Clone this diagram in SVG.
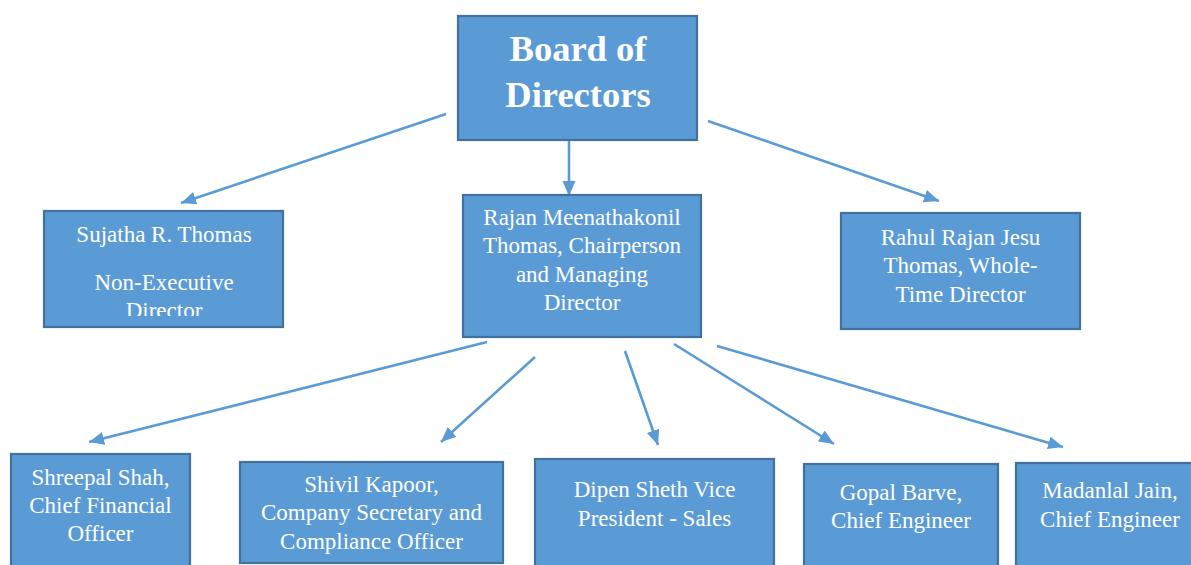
<svg xmlns="http://www.w3.org/2000/svg" width="1191" height="565" viewBox="0 0 1191 565">
<style>
.box{fill:#5b9bd5;stroke:#41719c;stroke-width:2.2}
.t{font-family:"Liberation Serif","Times New Roman",serif;font-size:23px;fill:#ffffff;text-anchor:middle}
.tb{font-family:"Liberation Serif","Times New Roman",serif;font-size:36.5px;font-weight:bold;fill:#ffffff;text-anchor:middle}
.c{stroke:#5b9bd5;stroke-width:2.6;fill:none;marker-end:url(#ah)}
</style>
<defs>
<marker id="ah" markerUnits="userSpaceOnUse" markerWidth="16" markerHeight="14" refX="15" refY="6.5" orient="auto">
<path d="M0,0 L15,6.5 L0,13 z" fill="#5b9bd5"/>
</marker>
<clipPath id="cs"><rect x="44" y="211" width="239" height="105"/></clipPath>
</defs>
<rect width="1191" height="565" fill="#ffffff"/>
<g id="connectors">
<line class="c" x1="569" y1="140" x2="569" y2="196"/>
<line class="c" x1="446" y1="114" x2="181" y2="203"/>
<line class="c" x1="708" y1="121" x2="939" y2="201"/>
<line class="c" x1="487" y1="342" x2="89" y2="442"/>
<line class="c" x1="535" y1="357" x2="441" y2="442"/>
<line class="c" x1="625" y1="351" x2="658" y2="445"/>
<line class="c" x1="674" y1="344" x2="834" y2="444"/>
<line class="c" x1="717" y1="346" x2="1063" y2="447"/>
</g>
<g id="board">
<rect class="box" x="458" y="16" width="239" height="124"/>
<text class="tb" x="578" y="61">Board of</text>
<text class="tb" x="578" y="107">Directors</text>
</g>
<g id="sujatha">
<rect class="box" x="44" y="211" width="239" height="116"/>
<g clip-path="url(#cs)">
<text class="t" x="164" y="242">Sujatha R. Thomas</text>
<text class="t" x="164" y="290">Non-Executive</text>
<text class="t" x="164" y="318">Director</text>
</g>
</g>
<g id="rajan">
<rect class="box" x="463" y="195" width="238" height="142"/>
<text class="t" x="582" y="225">Rajan Meenathakonil</text>
<text class="t" x="582" y="253">Thomas, Chairperson</text>
<text class="t" x="582" y="282">and Managing</text>
<text class="t" x="582" y="310">Director</text>
</g>
<g id="rahul">
<rect class="box" x="841" y="213" width="239" height="116"/>
<text class="t" x="960.5" y="245">Rahul Rajan Jesu</text>
<text class="t" x="960.5" y="273">Thomas, Whole-</text>
<text class="t" x="960.5" y="302">Time Director</text>
</g>
<g id="shreepal">
<rect class="box" x="11" y="454" width="179" height="125"/>
<text class="t" x="100.5" y="485">Shreepal Shah,</text>
<text class="t" x="100.5" y="513">Chief Financial</text>
<text class="t" x="100.5" y="541">Officer</text>
</g>
<g id="shivil">
<rect class="box" x="240" y="462" width="263" height="101"/>
<text class="t" x="371.5" y="492">Shivil Kapoor,</text>
<text class="t" x="371.5" y="520">Company Secretary and</text>
<text class="t" x="371.5" y="549">Compliance Officer</text>
</g>
<g id="dipen">
<rect class="box" x="535" y="459" width="239" height="120"/>
<text class="t" x="654.5" y="497">Dipen Sheth Vice</text>
<text class="t" x="654.5" y="526">President - Sales</text>
</g>
<g id="gopal">
<rect class="box" x="804" y="464" width="194" height="115"/>
<text class="t" x="901" y="500">Gopal Barve,</text>
<text class="t" x="901" y="528">Chief Engineer</text>
</g>
<g id="madanlal">
<rect class="box" x="1016" y="463" width="190" height="116"/>
<text class="t" x="1110" y="498">Madanlal Jain,</text>
<text class="t" x="1110" y="527">Chief Engineer</text>
</g>
</svg>
